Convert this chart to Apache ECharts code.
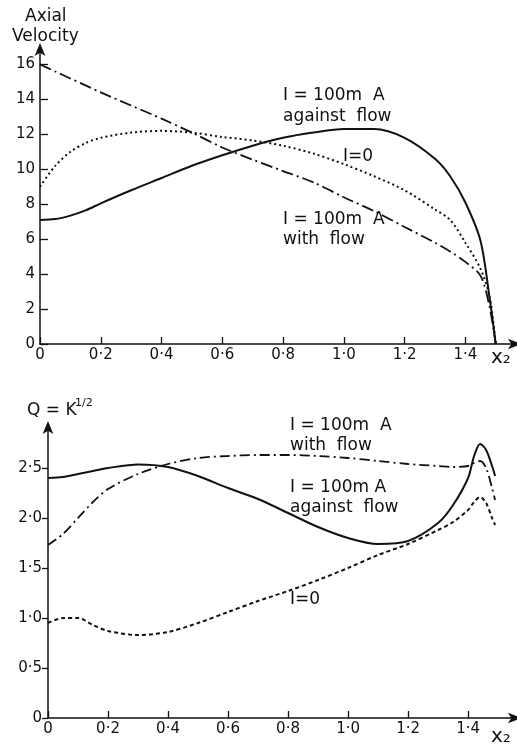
<!DOCTYPE html>
<html>
<head>
<meta charset="utf-8">
<script src="https://cdn.jsdelivr.net/npm/echarts@6/dist/echarts.min.js"></script>
<style>
  html, body { margin: 0; padding: 0; background: #fff; }
  #chart { width: 517px; height: 749px; }
</style>
</head>
<body>
<div id="chart"></div>
<script>
// top panel: axial velocity
const topX = [0, 0.05, 0.1, 0.15, 0.2, 0.3, 0.4, 0.5, 0.6, 0.7, 0.8, 0.9, 1.0, 1.1, 1.2, 1.3, 1.35, 1.4, 1.45, 1.48, 1.5];
const topAgainst = [7.1, 7.15, 7.35, 7.65, 8.05, 8.8, 9.5, 10.2, 10.8, 11.35, 11.8, 12.1, 12.3, 12.3, 11.8, 10.6, 9.6, 8.1, 5.9, 2.6, 0];
const topWith = [16.0, 15.6, 15.2, 14.8, 14.4, 13.65, 12.9, 12.1, 11.25, 10.55, 9.9, 9.25, 8.4, 7.6, 6.7, 5.8, 5.3, 4.7, 3.9, 2.1, 0];
const topZero = [9.0, 10.2, 11.0, 11.5, 11.8, 12.1, 12.2, 12.1, 11.85, 11.65, 11.35, 10.9, 10.3, 9.6, 8.8, 7.7, 7.1, 5.8, 4.3, 2.7, 0];

// bottom panel: Q = K^1/2
const botX = [0, 0.05, 0.1, 0.15, 0.2, 0.3, 0.4, 0.5, 0.6, 0.7, 0.8, 0.9, 1.0, 1.1, 1.2, 1.3, 1.35, 1.4, 1.42, 1.44, 1.46, 1.48, 1.49];
const botAgainst = [2.4, 2.41, 2.44, 2.47, 2.5, 2.535, 2.51, 2.42, 2.3, 2.19, 2.05, 1.91, 1.8, 1.74, 1.77, 1.95, 2.13, 2.4, 2.62, 2.74, 2.68, 2.52, 2.42];
const botWith = [1.73, 1.84, 2.0, 2.16, 2.29, 2.44, 2.54, 2.6, 2.62, 2.63, 2.63, 2.62, 2.6, 2.57, 2.54, 2.52, 2.51, 2.52, 2.55, 2.57, 2.5, 2.3, 2.18];
const botZero = [0.95, 1.0, 1.0, 0.93, 0.87, 0.83, 0.86, 0.95, 1.06, 1.17, 1.27, 1.38, 1.5, 1.63, 1.74, 1.88, 1.96, 2.08, 2.16, 2.21, 2.15, 2.0, 1.93];

const xTicks = [0, 0.2, 0.4, 0.6, 0.8, 1.0, 1.2, 1.4];
const topYTicks = [0, 2, 4, 6, 8, 10, 12, 14, 16];
const botYTicks = [0, 0.5, 1.0, 1.5, 2.0, 2.5];

const ink = '#111';
const font = 'DejaVu Sans';

function dec(v) {
  return v === 0 ? '0' : v.toFixed(1).replace('.', '\u00b7');
}
function pairs(xs, ys) {
  return xs.map((x, i) => [x, ys[i]]);
}

function xAxis(idx, max) {
  return {
    type: 'value', gridIndex: idx, min: 0, max: max,
    axisLine: { show: true, symbol: ['none', 'arrow'], symbolSize: [8, 13], symbolOffset: [0, 4], lineStyle: { color: ink, width: 1.5 } },
    axisTick: { show: true, inside: true, length: 7, customValues: xTicks, lineStyle: { color: ink, width: 1.3 } },
    axisLabel: { customValues: xTicks, formatter: dec, color: ink, fontSize: 15, fontFamily: font, margin: 4 },
    splitLine: { show: false }
  };
}

function curve(ax, xs, ys, width, dash) {
  return {
    type: 'line', xAxisIndex: ax, yAxisIndex: ax, data: pairs(xs, ys),
    smooth: 0.3, showSymbol: false, silent: true,
    lineStyle: { color: ink, width: width, type: dash || 'solid' }
  };
}

const chart = echarts.init(document.getElementById('chart'));
chart.setOption({
  animation: false,
  backgroundColor: '#fff',
  grid: [
    { left: 40, top: 47, width: 477, height: 297 },
    { left: 48, top: 425, width: 469, height: 293 }
  ],
  xAxis: [xAxis(0, 1.57), xAxis(1, 1.563)],
  yAxis: [
    {
      type: 'value', gridIndex: 0, min: 0, max: 17,
      axisLine: { show: true, symbol: ['none', 'arrow'], symbolSize: [8, 13], symbolOffset: [0, 4], lineStyle: { color: ink, width: 1.5 } },
      axisTick: { show: true, inside: true, length: 8, customValues: topYTicks, lineStyle: { color: ink, width: 1.3 } },
      axisLabel: { customValues: topYTicks, color: ink, fontSize: 15, fontFamily: font, margin: 5 },
      splitLine: { show: false }
    },
    {
      type: 'value', gridIndex: 1, min: 0, max: 2.93,
      axisLine: { show: true, symbol: ['none', 'arrow'], symbolSize: [8, 13], symbolOffset: [0, 4], lineStyle: { color: ink, width: 1.5 } },
      axisTick: { show: true, length: 6, customValues: botYTicks, lineStyle: { color: ink, width: 1.3 } },
      axisLabel: { customValues: botYTicks, formatter: dec, color: ink, fontSize: 15, fontFamily: font, margin: 6 },
      splitLine: { show: false }
    }
  ],
  series: [
    curve(0, topX, topAgainst, 2),
    curve(0, topX, topWith, 1.8, [12, 4, 2, 4]),
    curve(0, topX, topZero, 2, [2, 3]),
    curve(1, botX, botAgainst, 2),
    curve(1, botX, botWith, 1.8, [10, 4, 2, 4]),
    curve(1, botX, botZero, 2, [4, 3])
  ],
  graphic: [
    { type: 'text', left: 25, top: 8, style: { text: 'Axial', fontSize: 17, fontFamily: font, fill: ink } },
    { type: 'text', left: 12, top: 28, style: { text: 'Velocity', fontSize: 17, fontFamily: font, fill: ink } },
    { type: 'text', left: 283, top: 85, style: { text: 'I = 100m  A\nagainst  flow', fontSize: 17, lineHeight: 21, fontFamily: font, fill: ink } },
    { type: 'text', left: 343, top: 148, style: { text: 'I=0', fontSize: 17, fontFamily: font, fill: ink } },
    { type: 'text', left: 283, top: 210, style: { text: 'I = 100m  A\nwith  flow', fontSize: 17, lineHeight: 20, fontFamily: font, fill: ink } },
    { type: 'text', left: 491, top: 348, style: { text: 'x\u2082', fontSize: 20, fontFamily: font, fill: ink } },
    { type: 'text', left: 27, top: 402, style: { text: 'Q = K', fontSize: 17, fontFamily: font, fill: ink } },
    { type: 'text', left: 75, top: 398, style: { text: '1/2', fontSize: 11, fontFamily: font, fill: ink } },
    { type: 'text', left: 290, top: 416, style: { text: 'I = 100m  A\nwith  flow', fontSize: 17, lineHeight: 20, fontFamily: font, fill: ink } },
    { type: 'text', left: 290, top: 478, style: { text: 'I = 100m A\nagainst  flow', fontSize: 17, lineHeight: 20, fontFamily: font, fill: ink } },
    { type: 'text', left: 290, top: 591, style: { text: 'I=0', fontSize: 17, fontFamily: font, fill: ink } },
    { type: 'text', left: 491, top: 727, style: { text: 'x\u2082', fontSize: 20, fontFamily: font, fill: ink } }
  ]
});
</script>
</body>
</html>
